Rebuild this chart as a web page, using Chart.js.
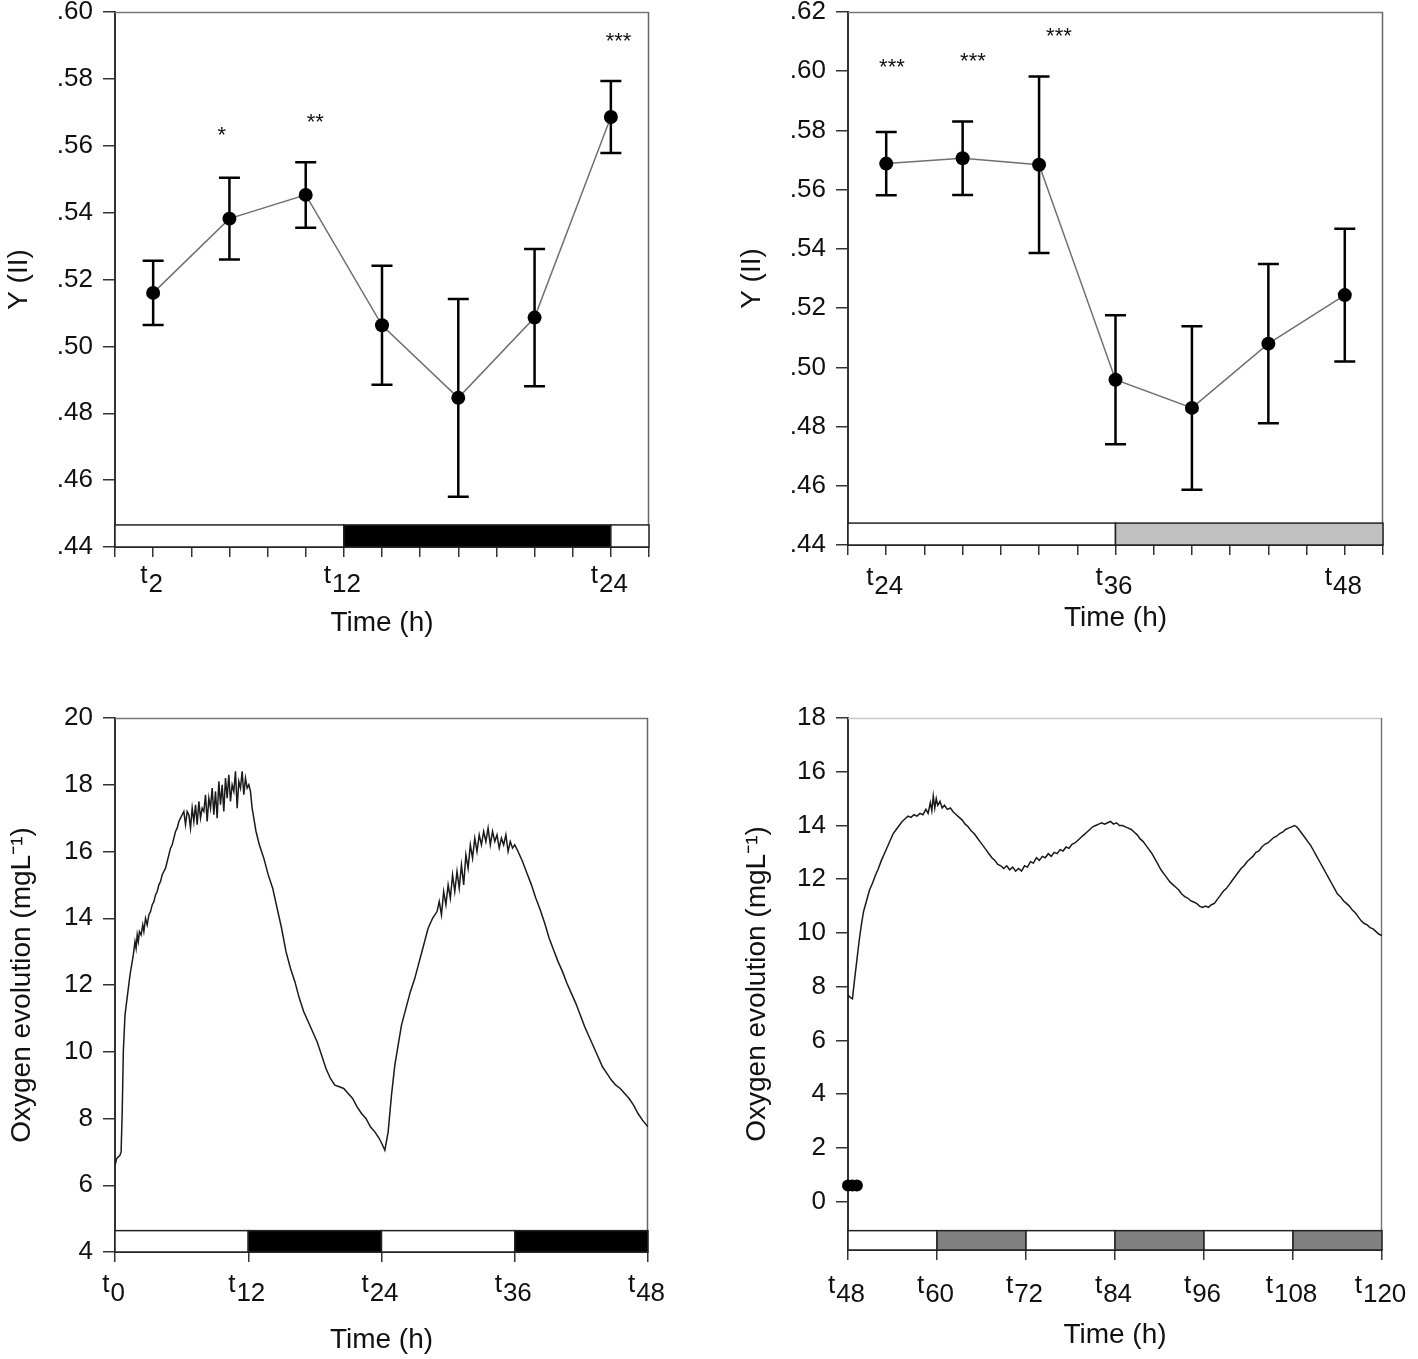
<!DOCTYPE html>
<html>
<head>
<meta charset="utf-8">
<script src="https://cdn.jsdelivr.net/npm/chart.js@4.4.0/dist/chart.umd.min.js"></script>
<style>
  html, body { margin: 0; padding: 0; background: #fff; }
  #wrap { position: relative; width: 1418px; height: 1359px; }
  canvas { position: absolute; }
</style>
</head>
<body>
<div id="wrap">
  <canvas id="c1" width="709" height="680" style="left:0;top:0"></canvas>
  <canvas id="c2" width="709" height="680" style="left:709px;top:0"></canvas>
  <canvas id="c3" width="709" height="679" style="left:0;top:680px"></canvas>
  <canvas id="c4" width="709" height="679" style="left:709px;top:680px"></canvas>
</div>
<script>
// ---- top left: Y(II), first cycle ----
var yiiX1 = [1, 3, 5, 7, 9, 11, 13];
var yiiMean1 = [0.516, 0.5382, 0.5453, 0.5063, 0.4846, 0.5086, 0.5686];
var yiiErr1 = [0.0096, 0.0122, 0.0098, 0.0178, 0.0296, 0.0205, 0.0108];
var sigX1 = [2.8, 5.25, 13.2];
var sigY1 = [0.5647, 0.5687, 0.5927];
var sigText1 = ['*', '**', '***'];
var xTicks1 = [0, 1, 2, 3, 4, 5, 6, 7, 8, 9, 10, 11, 12, 13, 14];
var xLabelAt1 = [1, 6, 13];
var xLabelSub1 = ['2', '12', '24'];
var yTicks1 = [0.44, 0.46, 0.48, 0.50, 0.52, 0.54, 0.56, 0.58, 0.60];
var phaseFrom1 = [0, 6, 13];
var phaseTo1 = [6, 13, 14];
var phaseKind1 = ['light', 'dark', 'light'];

// ---- top right: Y(II), second cycle ----
var yiiX2 = [1, 3, 5, 7, 9, 11, 13];
var yiiMean2 = [0.5688, 0.5706, 0.5684, 0.4958, 0.4863, 0.508, 0.5244];
var yiiErr2 = [0.0107, 0.0124, 0.0298, 0.0218, 0.0276, 0.0269, 0.0224];
var sigX2 = [1.15, 3.27, 5.52];
var sigY2 = [0.6031, 0.6051, 0.6136];
var sigText2 = ['***', '***', '***'];
var xTicks2 = [0, 1, 2, 3, 4, 5, 6, 7, 8, 9, 10, 11, 12, 13, 14];
var xLabelAt2 = [1, 7, 13];
var xLabelSub2 = ['24', '36', '48'];
var yTicks2 = [0.44, 0.46, 0.48, 0.50, 0.52, 0.54, 0.56, 0.58, 0.60, 0.62];
var phaseFrom2 = [0, 7];
var phaseTo2 = [7, 14];
var phaseKind2 = ['light', 'dim'];

// ---- bottom left: oxygen evolution, 0-48 h ----
var hours3 = [
  0, 0.15, 0.3, 0.45, 0.55, 0.65, 0.75, 0.9, 1.05, 1.2,
  1.35, 1.5, 1.65, 1.8, 1.9, 2.0, 2.1, 2.2, 2.35, 2.5,
  2.6, 2.75, 2.9, 3.05, 3.2, 3.35, 3.5, 3.65, 3.8, 3.95,
  4.1, 4.25, 4.4, 4.55, 4.7, 4.85, 5.0, 5.15, 5.3, 5.45,
  5.6, 5.75, 5.9,
  6.05, 6.2, 6.35, 6.5, 6.65, 6.8, 6.95, 7.1, 7.25, 7.4,
  7.55, 7.7, 7.85, 8.0, 8.15, 8.3, 8.45, 8.6, 8.75, 8.9,
  9.05, 9.2, 9.35, 9.5, 9.65, 9.8, 9.95, 10.1, 10.25, 10.4,
  10.55, 10.7, 10.85, 11.0, 11.15, 11.3, 11.45, 11.6, 11.75, 11.9,
  12.05, 12.2, 12.35, 12.5, 12.7,
  13.0, 13.4, 13.8, 14.2, 14.6, 15.0, 15.4, 15.8, 16.2, 16.6,
  17.0, 17.4, 17.8, 18.2, 18.6, 19.0, 19.4, 19.8, 20.2, 20.6,
  21.0, 21.4, 21.8, 22.2, 22.6, 23.0, 23.4, 23.8, 24.1, 24.3,
  24.6, 24.9, 25.2, 25.5, 25.8, 26.2, 26.6, 27.0, 27.4, 27.8,
  28.2, 28.6, 29.0,
  29.2, 29.4, 29.6, 29.8, 30.0, 30.2, 30.4, 30.6, 30.8, 31.0,
  31.2, 31.4, 31.6, 31.8, 32.0, 32.2, 32.4, 32.6, 32.8, 33.0,
  33.2, 33.4, 33.6, 33.8, 34.0, 34.2, 34.4, 34.6, 34.8, 35.0,
  35.2, 35.4, 35.6, 35.8, 36.0, 36.3,
  36.7, 37.1, 37.5, 37.9, 38.3, 38.7, 39.1, 39.5, 39.9, 40.3,
  40.7, 41.1, 41.5, 41.9, 42.3, 42.7, 43.1, 43.5, 43.9, 44.3,
  44.7, 45.1, 45.5, 45.9, 46.3, 46.7, 47.1, 47.5, 48.0
];
var oxygen3 = [
  6.6, 6.8, 6.85, 6.9, 7.0, 8.2, 10.0, 11.1, 11.5, 11.9,
  12.3, 12.6, 12.9, 13.3, 13.1, 13.5, 13.3, 13.6, 13.5, 13.8,
  13.6, 14.0, 13.8, 14.1, 14.2, 14.4, 14.5, 14.7, 14.8, 15.0,
  15.1, 15.3, 15.4, 15.5, 15.7, 15.9, 16.1, 16.2, 16.4, 16.6,
  16.7, 16.9, 17.0,
  17.1, 17.2, 16.8, 17.2, 17.1, 16.7, 17.3, 16.9, 17.4, 16.8,
  17.5, 17.0, 17.3, 17.2, 17.7, 16.9, 17.6, 17.3, 17.9, 17.1,
  17.8, 17.0, 18.1, 17.4, 18.0, 17.2, 18.2, 17.6, 18.3, 17.5,
  18.0, 17.8, 18.4, 17.3, 18.1, 17.9, 18.4, 17.7, 18.2, 17.9,
  18.0, 17.8, 17.3, 17.0, 16.6,
  16.2, 15.8, 15.3, 14.9, 14.3, 13.7, 13.0, 12.5, 12.1, 11.6,
  11.2, 10.9, 10.6, 10.3, 9.9, 9.5, 9.2, 9.0, 8.95, 8.9,
  8.75, 8.6, 8.35, 8.15, 8.0, 7.75, 7.6, 7.4, 7.2, 7.05,
  7.6, 8.7, 9.6, 10.2, 10.8, 11.3, 11.8, 12.2, 12.7, 13.2,
  13.7, 14.0, 14.2,
  14.5, 14.1, 14.8, 14.4, 15.0, 14.6, 15.3, 14.8, 15.4, 14.9,
  15.6, 15.0, 15.9, 15.5, 16.2, 15.8, 16.4, 16.0, 16.5, 16.2,
  16.6, 16.3, 16.7, 16.2, 16.6, 16.3, 16.5, 16.1, 16.4, 16.2,
  16.5, 16.0, 16.3, 16.1, 16.2, 16.0,
  15.7, 15.35, 15.0, 14.6, 14.25, 13.85, 13.4, 13.05, 12.7, 12.4,
  12.05, 11.75, 11.45, 11.1, 10.75, 10.45, 10.15, 9.85, 9.55, 9.35,
  9.15, 9.0, 8.9, 8.75, 8.6, 8.4, 8.15, 7.95, 7.75
];
var xTicks3 = [0, 12, 24, 36, 48];
var xLabelAt3 = [0, 12, 24, 36, 48];
var xLabelSub3 = ['0', '12', '24', '36', '48'];
var yTicks3 = [4, 6, 8, 10, 12, 14, 16, 18, 20];
var phaseFrom3 = [0, 12, 24, 36];
var phaseTo3 = [12, 24, 36, 48];
var phaseKind3 = ['light', 'dark', 'light', 'dark'];

// ---- bottom right: oxygen evolution, 48-120 h ----
var hours4 = [
  48.0, 48.3, 48.6, 48.9, 49.2, 49.5, 49.8, 50.1, 50.5, 50.9,
  51.3, 51.7, 52.1, 52.5, 52.9, 53.3, 53.7, 54.1, 54.5, 54.9,
  55.3, 55.7, 56.1, 56.5, 56.9, 57.3, 57.7, 58.1, 58.5, 58.8,
  59.1, 59.3, 59.5, 59.7, 59.9, 60.1, 60.4, 60.7, 61.0, 61.4,
  61.8, 62.2, 62.6, 63.0, 63.4, 63.8, 64.2, 64.6, 65.0, 65.4,
  65.8, 66.2, 66.6, 67.0, 67.4, 67.8, 68.2, 68.6, 69.0, 69.4,
  69.8, 70.2, 70.6, 71.0, 71.4, 71.8, 72.2, 72.6, 73.0, 73.4,
  73.8, 74.2, 74.6, 75.0, 75.4, 75.8, 76.2, 76.6, 77.0, 77.4,
  77.8, 78.2, 78.6, 79.0, 79.4, 79.8, 80.2, 80.6, 81.0, 81.4,
  81.8, 82.2, 82.6, 83.0, 83.4, 83.8, 84.2, 84.6, 85.0, 85.4,
  85.8, 86.2, 86.6, 87.0, 87.4, 87.8, 88.2, 88.6, 89.0, 89.4,
  89.8, 90.2, 90.6, 91.0, 91.4, 91.8, 92.2, 92.6, 93.0, 93.4,
  93.8, 94.2, 94.6, 95.0, 95.4, 95.8, 96.2, 96.6, 97.0, 97.4,
  97.8, 98.2, 98.6, 99.0, 99.4, 99.8, 100.2, 100.6, 101.0, 101.4,
  101.8, 102.2, 102.6, 103.0, 103.4, 103.8, 104.2, 104.6, 105.0, 105.4,
  105.8, 106.2, 106.6, 107.0, 107.4, 107.8, 108.2, 108.5, 108.8, 109.2,
  109.6, 110.0, 110.4, 110.8, 111.2, 111.6, 112.0, 112.4, 112.8, 113.2,
  113.6, 114.0, 114.4, 114.8, 115.2, 115.6, 116.0, 116.4, 116.8, 117.2,
  117.6, 118.0, 118.4, 118.8, 119.2, 119.6, 120.0
];
var oxygen4 = [
  7.7, 7.6, 7.55, 8.3, 9.0, 9.7, 10.3, 10.8, 11.2, 11.6,
  11.85, 12.15, 12.4, 12.7, 12.95, 13.2, 13.45, 13.7, 13.85, 14.0,
  14.15, 14.25, 14.35, 14.3, 14.4, 14.35, 14.45, 14.4, 14.6, 14.45,
  14.85, 14.55, 15.1, 14.65, 15.0, 14.75, 14.9, 14.65, 14.75, 14.6,
  14.65, 14.5, 14.4, 14.3, 14.2, 14.05, 13.95, 13.8, 13.7, 13.55,
  13.4, 13.25, 13.1, 12.95, 12.8, 12.7, 12.55, 12.5, 12.4, 12.5,
  12.35, 12.45, 12.3, 12.4, 12.3, 12.5, 12.45, 12.65, 12.6, 12.8,
  12.7, 12.85, 12.8, 12.95, 12.85, 13.0, 12.95, 13.1, 13.05, 13.2,
  13.15, 13.3, 13.35, 13.45, 13.55, 13.65, 13.75, 13.85, 13.95, 14.0,
  14.05, 14.1, 14.05, 14.1, 14.15, 14.05, 14.1, 14.0, 14.0, 13.95,
  13.9, 13.85, 13.75, 13.65, 13.5, 13.4, 13.25, 13.1, 12.95, 12.75,
  12.55, 12.35, 12.2, 12.05, 11.9, 11.8, 11.7, 11.6, 11.45, 11.35,
  11.3, 11.2, 11.15, 11.1, 11.0, 10.95, 11.0, 10.95, 11.05, 11.1,
  11.25, 11.4, 11.55, 11.65, 11.8, 11.95, 12.1, 12.25, 12.4, 12.5,
  12.65, 12.75, 12.85, 13.0, 13.05, 13.2, 13.3, 13.35, 13.45, 13.55,
  13.6, 13.7, 13.75, 13.85, 13.9, 13.95, 14.0, 13.95, 13.85, 13.7,
  13.55, 13.4, 13.25, 13.05, 12.85, 12.65, 12.45, 12.25, 12.05, 11.85,
  11.65, 11.45, 11.35, 11.2, 11.1, 11.0, 10.85, 10.75, 10.6, 10.45,
  10.35, 10.3, 10.2, 10.15, 10.05, 9.95, 9.9
];
var blobHours4 = [48.0, 48.6, 49.2];
var blobValue4 = [0.6, 0.6, 0.6];
var xTicks4 = [48, 60, 72, 84, 96, 108, 120];
var xLabelAt4 = [48, 60, 72, 84, 96, 108, 120];
var xLabelSub4 = ['48', '60', '72', '84', '96', '108', '120'];
var yTicks4 = [0, 2, 4, 6, 8, 10, 12, 14, 16, 18];
var phaseFrom4 = [48, 60, 72, 84, 96, 108];
var phaseTo4 = [60, 72, 84, 96, 108, 120];
var phaseKind4 = ['light', 'shade', 'light', 'shade', 'light', 'shade'];

var FONT = "'Liberation Sans', Arial, sans-serif";
var PHASE_FILL = { light: '#ffffff', dark: '#000000', dim: '#c0c0c0', shade: '#808080' };

function pairs(xs, ys) {
  return xs.map(function (x, i) { return { x: x, y: ys[i] }; });
}

// draws frame, photoperiod bar, error bars, subscripted time labels and asterisks
function makeDeco(p) {
  return {
    id: 'deco',
    beforeDatasetsDraw: function (chart) {
      var ctx = chart.ctx, a = chart.chartArea, x = chart.scales.x, y = chart.scales.y;
      ctx.save();
      ctx.lineWidth = 1.5;
      ctx.strokeStyle = p.topColor;
      ctx.beginPath(); ctx.moveTo(a.left, a.top + 0.5); ctx.lineTo(a.right, a.top + 0.5); ctx.stroke();
      ctx.strokeStyle = p.rightColor;
      ctx.beginPath(); ctx.moveTo(a.right - 0.5, a.top); ctx.lineTo(a.right - 0.5, a.bottom); ctx.stroke();

      var yb = y.getPixelForValue(y.min), yt = y.getPixelForValue(y.min + p.barSpan);
      ctx.strokeStyle = '#222';
      ctx.lineWidth = 1.5;
      p.from.forEach(function (f, i) {
        var x0 = x.getPixelForValue(f), x1 = x.getPixelForValue(p.to[i]);
        ctx.fillStyle = PHASE_FILL[p.kind[i]];
        ctx.fillRect(x0, yt, x1 - x0, yb - yt);
        ctx.strokeRect(x0, yt, x1 - x0, yb - yt);
      });

      if (p.errX) {
        ctx.strokeStyle = '#000';
        ctx.lineWidth = 2.5;
        p.errX.forEach(function (v, i) {
          var px = x.getPixelForValue(v);
          var top = y.getPixelForValue(p.errMean[i] + p.errSize[i]);
          var bot = y.getPixelForValue(p.errMean[i] - p.errSize[i]);
          ctx.beginPath();
          ctx.moveTo(px, top); ctx.lineTo(px, bot);
          ctx.moveTo(px - 10.5, top); ctx.lineTo(px + 10.5, top);
          ctx.moveTo(px - 10.5, bot); ctx.lineTo(px + 10.5, bot);
          ctx.stroke();
        });
      }
      ctx.restore();
    },
    afterDraw: function (chart) {
      var ctx = chart.ctx, a = chart.chartArea, x = chart.scales.x, y = chart.scales.y;
      ctx.save();
      ctx.fillStyle = '#111';
      ctx.font = '26px ' + FONT;
      ctx.textAlign = 'left';
      ctx.textBaseline = 'alphabetic';
      var base = a.bottom + p.labelDrop;
      p.labelAt.forEach(function (v, i) {
        var px = x.getPixelForValue(v);
        var wt = ctx.measureText('t').width;
        var ws = ctx.measureText(p.labelSub[i]).width;
        var x0 = px - (wt + ws) / 2 - 2;
        ctx.fillText('t', x0, base);
        ctx.fillText(p.labelSub[i], x0 + wt + 1, base + 9);
      });
      if (p.sigX) {
        ctx.font = '22px ' + FONT;
        ctx.textAlign = 'center';
        p.sigX.forEach(function (v, i) {
          ctx.fillText(p.sigText[i], x.getPixelForValue(v), y.getPixelForValue(p.sigY[i]) + 12);
        });
      }
      ctx.restore();
    }
  };
}

function buildChart(id, p) {
  return new Chart(document.getElementById(id), {
    type: 'line',
    data: { datasets: p.datasets },
    options: {
      responsive: false,
      animation: false,
      devicePixelRatio: 1,
      layout: { padding: p.pad },
      plugins: { legend: { display: false }, tooltip: { enabled: false } },
      scales: {
        x: {
          type: 'linear', min: p.xMin, max: p.xMax,
          afterBuildTicks: function (s) { s.ticks = p.xTicks.map(function (v) { return { value: v }; }); },
          afterFit: function (s) { s.height = p.xH; s.paddingLeft = 0; s.paddingRight = 0; },
          ticks: { display: false },
          grid: { drawOnChartArea: false, drawTicks: true, tickLength: 10, color: '#333', lineWidth: 1.5 },
          border: { color: '#333', width: 2 },
          title: { display: true, text: 'Time (h)', color: '#111',
                   font: { family: FONT, size: 28, lineHeight: 1 }, padding: { top: 0, bottom: 0 } }
        },
        y: {
          type: 'linear', min: p.yMin, max: p.yMax,
          afterBuildTicks: function (s) { s.ticks = p.yTicks.map(function (v) { return { value: v }; }); },
          afterFit: function (s) { s.width = p.yW; s.paddingTop = 0; s.paddingBottom = 0; },
          ticks: { color: '#111', padding: 10, autoSkip: false, font: { family: FONT, size: 26 },
                   callback: p.yFmt },
          grid: { drawOnChartArea: false, drawTicks: true, tickLength: 12, color: '#333', lineWidth: 1.5 },
          border: { color: '#333', width: 2 },
          title: { display: true, text: p.yTitle, color: '#111',
                   font: { family: FONT, size: 28, lineHeight: 1 }, padding: { top: p.yTitlePad, bottom: 0 } }
        }
      }
    },
    plugins: [makeDeco(p.deco)]
  });
}

function yiiDataset(xs, ys) {
  return {
    data: pairs(xs, ys),
    borderColor: '#707070', borderWidth: 1.5, tension: 0,
    pointRadius: 7, pointBackgroundColor: '#000', pointBorderWidth: 0
  };
}
function traceDataset(xs, ys) {
  return {
    data: pairs(xs, ys),
    borderColor: '#1a1a1a', borderWidth: 1.5, tension: 0, pointRadius: 0
  };
}
var fmt2 = function (v) { return v.toFixed(2).slice(1); };
var fmt0 = function (v) { return String(v); };

buildChart('c1', {
  datasets: [yiiDataset(yiiX1, yiiMean1)],
  pad: { left: 0, top: 12, right: 60, bottom: 43 },
  xMin: 0, xMax: 14, xTicks: xTicks1, xH: 90,
  yMin: 0.44, yMax: 0.60, yTicks: yTicks1, yW: 115, yFmt: fmt2,
  yTitle: 'Y (II)', yTitlePad: 5,
  deco: { topColor: '#777', rightColor: '#666', barSpan: 0.0066,
          from: phaseFrom1, to: phaseTo1, kind: phaseKind1,
          errX: yiiX1, errMean: yiiMean1, errSize: yiiErr1,
          labelAt: xLabelAt1, labelSub: xLabelSub1, labelDrop: 36,
          sigX: sigX1, sigY: sigY1, sigText: sigText1 }
});

buildChart('c2', {
  datasets: [yiiDataset(yiiX2, yiiMean2)],
  pad: { left: 0, top: 12, right: 35, bottom: 48 },
  xMin: 0, xMax: 14, xTicks: xTicks2, xH: 87,
  yMin: 0.44, yMax: 0.62, yTicks: yTicks2, yW: 139, yFmt: fmt2,
  yTitle: 'Y (II)', yTitlePad: 29,
  deco: { topColor: '#777', rightColor: '#666', barSpan: 0.0074,
          from: phaseFrom2, to: phaseTo2, kind: phaseKind2,
          errX: yiiX2, errMean: yiiMean2, errSize: yiiErr2,
          labelAt: xLabelAt2, labelSub: xLabelSub2, labelDrop: 40,
          sigX: sigX2, sigY: sigY2, sigText: sigText2 }
});

buildChart('c3', {
  datasets: [traceDataset(hours3, oxygen3)],
  pad: { left: 0, top: 38, right: 61, bottom: 5 },
  xMin: 0, xMax: 48, xTicks: xTicks3, xH: 102,
  yMin: 4, yMax: 20, yTicks: yTicks3, yW: 115, yFmt: fmt0,
  yTitle: 'Oxygen evolution (mgL\u207B\u00B9)', yTitlePad: 8,
  deco: { topColor: '#777', rightColor: '#666', barSpan: 0.64,
          from: phaseFrom3, to: phaseTo3, kind: phaseKind3,
          labelAt: xLabelAt3, labelSub: xLabelSub3, labelDrop: 40 }
});

var blob = {
  data: pairs(blobHours4, blobValue4),
  showLine: false, pointRadius: 6, pointBackgroundColor: '#000', pointBorderWidth: 0, clip: false
};
buildChart('c4', {
  datasets: [traceDataset(hours4, oxygen4), blob],
  pad: { left: 0, top: 38, right: 36, bottom: 10 },
  xMin: 48, xMax: 120, xTicks: xTicks4, xH: 99,
  yMin: -1.8, yMax: 18, yTicks: yTicks4, yW: 139, yFmt: fmt0,
  yTitle: 'Oxygen evolution (mgL\u207B\u00B9)', yTitlePad: 34,
  deco: { topColor: '#c8c8c8', rightColor: '#777', barSpan: 0.72,
          from: phaseFrom4, to: phaseTo4, kind: phaseKind4,
          labelAt: xLabelAt4, labelSub: xLabelSub4, labelDrop: 43 }
});
</script>
</body>
</html>
